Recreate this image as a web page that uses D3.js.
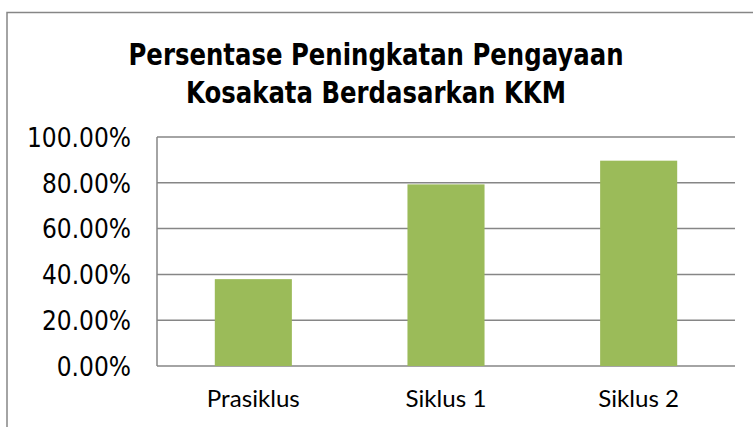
<!DOCTYPE html>
<html>
<head>
<meta charset="utf-8">
<script src="https://cdn.jsdelivr.net/npm/d3@7"></script>
<style>
  body { margin: 0; background: #fff; }
  svg { display: block; }
</style>
</head>
<body>
<div id="chart"></div>
<script>
// data
const categories = ["Prasiklus", "Siklus 1", "Siklus 2"];
const values = [37.93, 79.31, 89.66];
const yTicks = [0, 20, 40, 60, 80, 100];
const titleLines = ["Persentase Peningkatan Pengayaan", "Kosakata Berdasarkan KKM"];

const W = 753, H = 427;
const margin = {top: 137, right: 18, bottom: 61, left: 157};
const width = W - margin.left - margin.right;
const height = H - margin.top - margin.bottom;

const svg = d3.select("#chart").append("svg")
  .attr("width", W).attr("height", H);

// outer frame of the chart (runs off right/bottom)
svg.append("rect")
  .attr("x", 7).attr("y", 12.5)
  .attr("width", W + 10).attr("height", H + 10)
  .style("fill", "none").style("stroke", "#868686").style("stroke-width", 1.5);

// squeeze a group of texts so that the reference one gets the width seen in the picture
function squeeze(sel, refNode, target) {
  const k = target / refNode.getComputedTextLength();
  sel.each(function() {
    const w = this.getComputedTextLength();
    d3.select(this).attr("textLength", w * k).attr("lengthAdjust", "spacingAndGlyphs");
  });
}

// title
const title = svg.append("g");
titleLines.forEach((t, i) => {
  title.append("text")
    .text(t)
    .attr("x", 376).attr("y", 65 + i * 37.7)
    .attr("text-anchor", "middle")
    .style("font-family", "'DejaVu Sans', Verdana, sans-serif")
    .style("font-weight", "bold")
    .style("font-size", "30px")
    .style("fill", "#000");
});
squeeze(title.selectAll("text"), title.select("text").node(), 495);

const g = svg.append("g")
  .attr("transform", "translate(" + margin.left + "," + margin.top + ")");

const x = d3.scaleBand()
  .domain(categories)
  .range([0, width])
  .paddingInner(0.6)
  .paddingOuter(0.3);

const y = d3.scaleLinear()
  .domain([0, 100])
  .range([height, 0]);

// gridlines
g.selectAll(".grid")
  .data(yTicks)
  .enter().append("line")
  .attr("class", "grid")
  .attr("x1", 0).attr("x2", width)
  .attr("y1", d => y(d)).attr("y2", d => y(d))
  .style("stroke", "#868686").style("stroke-width", 1.5);

// left axis line
g.append("line")
  .attr("x1", 0).attr("x2", 0)
  .attr("y1", y(100)).attr("y2", y(0))
  .style("stroke", "#868686").style("stroke-width", 1.5);

// bars
g.selectAll(".bar")
  .data(values)
  .enter().append("rect")
  .attr("class", "bar")
  .attr("x", (d, i) => x(categories[i]))
  .attr("width", x.bandwidth())
  .attr("y", d => y(d))
  .attr("height", d => y(0) - y(d))
  .style("fill", "#9BBB59");

// y tick labels
const yLab = g.selectAll(".ylab")
  .data(yTicks)
  .enter().append("text")
  .attr("class", "ylab")
  .text(d => d3.format(".2f")(d) + "%")
  .attr("x", -26)
  .attr("y", d => y(d))
  .attr("dy", "0.36em")
  .attr("text-anchor", "end")
  .style("font-family", "'DejaVu Sans', Verdana, sans-serif")
  .style("font-size", "27px")
  .style("fill", "#000");
squeeze(yLab, yLab.filter(d => d === 100).node(), 104);

// x labels
const xLab = g.selectAll(".xlab")
  .data(categories)
  .enter().append("text")
  .attr("class", "xlab")
  .text(d => d)
  .attr("x", d => x(d) + x.bandwidth() / 2)
  .attr("y", height + 41)
  .attr("text-anchor", "middle")
  .style("font-family", "Lato, 'Open Sans', sans-serif")
  .style("font-size", "22.5px")
  .style("fill", "#000");
squeeze(xLab, xLab.filter(d => d === "Prasiklus").node(), 93);
</script>
</body>
</html>
